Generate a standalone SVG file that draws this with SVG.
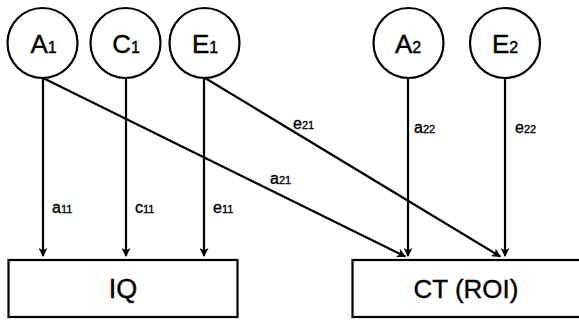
<svg xmlns="http://www.w3.org/2000/svg" width="579" height="321" viewBox="0 0 579 321">
<style>
.node circle, .node rect { fill: #fff; stroke: #000; stroke-width: 2.2; }
.lbl { font-family: "Liberation Sans", Arial, sans-serif; font-size: 26px; fill: #000; stroke: #000; stroke-width: 0.4; text-anchor: middle; }
.sub { font-size: 16px; }
.edge line { stroke: #000; stroke-width: 2.2; fill: none; marker-end: url(#arr); }
.el { font-family: "Liberation Sans", Arial, sans-serif; font-size: 16px; fill: #000; stroke: #000; stroke-width: 0.35; }
.es { font-size: 11px; }
</style>
<defs>
<marker id="arr" viewBox="0 0 10 10" refX="9" refY="5" markerWidth="10" markerHeight="9" markerUnits="userSpaceOnUse" orient="auto">
<path d="M0,0 L10,5 L0,10 L2.5,5 z" fill="#000"/>
</marker>
</defs>
<rect width="579" height="321" fill="#fff"/>
<g id="connectors" class="edge">
<line x1="43" y1="78" x2="43" y2="256"/>
<line x1="126" y1="79" x2="126" y2="256"/>
<line x1="204" y1="79" x2="204" y2="256"/>
<line x1="43" y1="78" x2="405.2" y2="256.5"/>
<line x1="205" y1="78" x2="500.2" y2="256.5"/>
<line x1="408" y1="79" x2="408" y2="256"/>
<line x1="505" y1="79" x2="505" y2="256"/>
</g>
<g id="edge-labels">
<text class="el" x="52" y="213">a<tspan class="es">11</tspan></text>
<text class="el" x="135" y="213">c<tspan class="es">11</tspan></text>
<text class="el" x="213" y="213">e<tspan class="es">11</tspan></text>
<text class="el" x="270" y="184">a<tspan class="es">21</tspan></text>
<text class="el" x="293" y="129">e<tspan class="es">21</tspan></text>
<text class="el" x="414" y="133">a<tspan class="es">22</tspan></text>
<text class="el" x="515" y="133">e<tspan class="es">22</tspan></text>
</g>
<g id="A1" class="node">
<circle cx="42.5" cy="43" r="35"/>
<text class="lbl" x="43.5" y="53">A<tspan class="sub">1</tspan></text>
</g>
<g id="C1" class="node">
<circle cx="125.5" cy="43" r="35"/>
<text class="lbl" x="126" y="53">C<tspan class="sub">1</tspan></text>
</g>
<g id="E1" class="node">
<circle cx="204.5" cy="43" r="35"/>
<text class="lbl" x="205" y="53">E<tspan class="sub">1</tspan></text>
</g>
<g id="A2" class="node">
<circle cx="408.5" cy="43" r="35"/>
<text class="lbl" x="408" y="53">A<tspan class="sub">2</tspan></text>
</g>
<g id="E2" class="node">
<circle cx="505" cy="43" r="35"/>
<text class="lbl" x="505" y="53">E<tspan class="sub">2</tspan></text>
</g>
<g id="IQ" class="node">
<rect x="8.5" y="260" width="229" height="57"/>
<text class="lbl" x="123" y="298" style="font-size:27px">IQ</text>
</g>
<g id="CT" class="node">
<rect x="352.5" y="260" width="230" height="57"/>
<text class="lbl" x="466" y="298" style="font-size:26px">CT (ROI)</text>
</g>
</svg>
